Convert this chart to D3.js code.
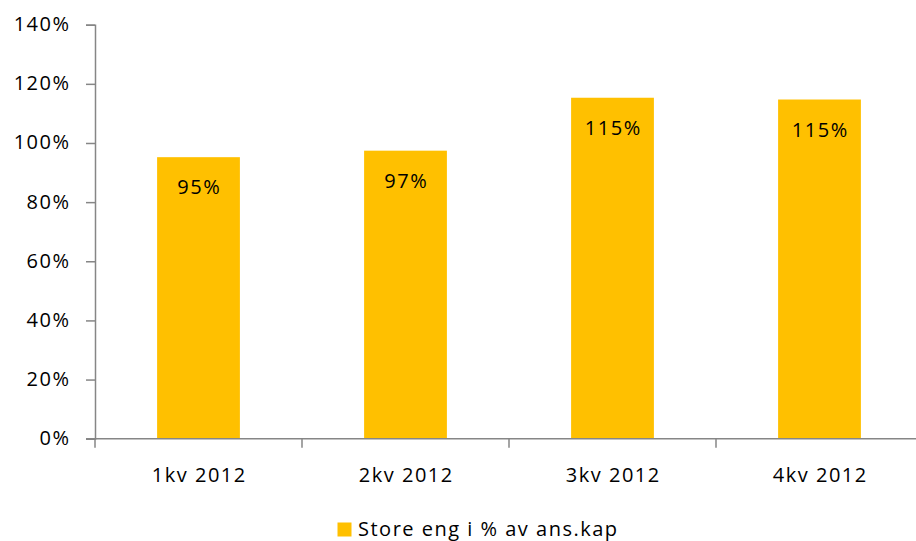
<!DOCTYPE html>
<html>
<head>
<meta charset="utf-8">
<script src="https://cdn.jsdelivr.net/npm/d3@7/dist/d3.min.js"></script>
<style>
  html, body { margin: 0; padding: 0; background: #fff; }
  svg { display: block; font-family: "Open Sans", "Noto Sans", sans-serif; }
  svg text { letter-spacing: 1.5px; }
</style>
</head>
<body>
<svg id="chart" width="916" height="541"></svg>
<script>
// Quarterly share of large commitments relative to capital (%)
const categories = ["1kv 2012", "2kv 2012", "3kv 2012", "4kv 2012"];
const values = [95.2, 97.4, 115.3, 114.7];
const yTicks = [0, 20, 40, 60, 80, 100, 120, 140];
const seriesName = "Store eng i % av ans.kap";

const barColor = "#FFC000";
const axisColor = "#868686";
const fontSize = 20;

const svg = d3.select("#chart");
const W = 916, H = 541;
const margin = { left: 95, right: -7, top: 24.7, bottom: 102.3 };

const x = d3.scaleBand()
  .domain(categories)
  .range([margin.left, W - margin.right])
  .paddingInner(0.6)
  .paddingOuter(0.3);

const y = d3.scaleLinear()
  .domain([0, 140])
  .range([H - margin.bottom, margin.top]);

// Bars
svg.append("g")
  .selectAll("rect")
  .data(values)
  .join("rect")
  .attr("x", (d, i) => x(categories[i]))
  .attr("y", d => y(d))
  .attr("width", x.bandwidth())
  .attr("height", d => y(0) - y(d))
  .attr("fill", barColor);

// Value labels inside the bars
svg.append("g")
  .selectAll("text")
  .data(values)
  .join("text")
  .attr("x", (d, i) => x(categories[i]) + x.bandwidth() / 2 + 0.75)
  .attr("y", d => y(d) + 37)
  .attr("text-anchor", "middle")
  .attr("font-size", fontSize)
  .attr("fill", "#000")
  .text(d => Math.round(d) + "%");

// Y axis
const yAxis = d3.axisLeft(y)
  .tickValues(yTicks)
  .tickFormat(d => d + "%")
  .tickSize(9)
  .tickPadding(15.5);

const gy = svg.append("g")
  .attr("transform", `translate(${margin.left},0)`)
  .call(yAxis);
gy.attr("font-family", null).attr("font-size", null);
gy.select(".domain").attr("stroke", axisColor).attr("stroke-width", 1.5);
gy.selectAll(".tick line").attr("stroke", axisColor).attr("stroke-width", 1.5);
gy.selectAll(".tick text")
  .attr("font-size", fontSize)
  .attr("dy", "0.3em")
  .attr("fill", "#000");

// X axis: baseline with category boundary ticks
const gx = svg.append("g");
const x1 = W - margin.right;
gx.append("line")
  .attr("x1", margin.left - 9).attr("x2", x1)
  .attr("y1", y(0)).attr("y2", y(0))
  .attr("stroke", axisColor).attr("stroke-width", 1.5);

const boundaries = categories.map((c, i) => margin.left + i * x.step());
gx.selectAll("line.tick")
  .data(boundaries)
  .join("line")
  .attr("class", "tick")
  .attr("x1", d => d).attr("x2", d => d)
  .attr("y1", y(0)).attr("y2", y(0) + 9)
  .attr("stroke", axisColor).attr("stroke-width", 1.5);

gx.selectAll("text")
  .data(categories)
  .join("text")
  .attr("x", d => x(d) + x.bandwidth() / 2 + 0.75)
  .attr("y", y(0) + 43)
  .attr("text-anchor", "middle")
  .attr("font-size", fontSize)
  .attr("fill", "#000")
  .text(d => d);

// Legend
const legend = svg.append("g");
legend.append("rect")
  .attr("x", 337.5).attr("y", 522.5)
  .attr("width", 14).attr("height", 14)
  .attr("fill", barColor);
legend.append("text")
  .attr("x", 358).attr("y", 536)
  .attr("font-size", fontSize)
  .attr("fill", "#000")
  .text(seriesName);
</script>
</body>
</html>
